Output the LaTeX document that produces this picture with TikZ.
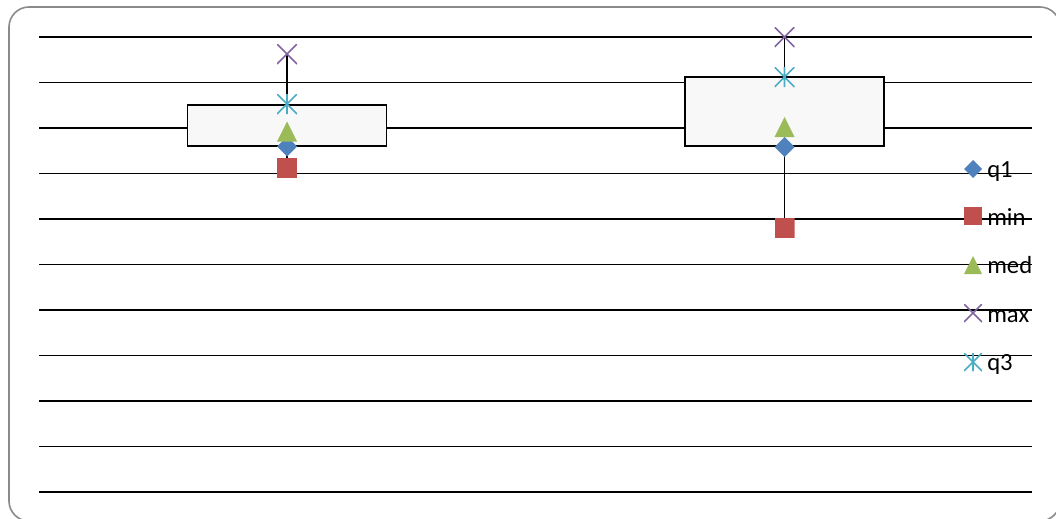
\documentclass[tikz,border=0pt]{standalone}
\usepackage{fontspec}
\setmainfont{Carlito}
\definecolor{q1c}{HTML}{4F81BD}
\definecolor{minc}{HTML}{C0504D}
\definecolor{medc}{HTML}{9BBB59}
\definecolor{maxc}{HTML}{8064A2}
\definecolor{q3c}{HTML}{4BACC6}
\definecolor{framec}{HTML}{8A8A8A}
\definecolor{boxfill}{HTML}{F8F8F8}
\pgfdeclarelayer{back}
\pgfsetlayers{back,main}
\begin{document}
\begin{tikzpicture}[x=0.75pt,y=-0.75pt,
  gridline/.style={line width=1.4pt,black},
  boxst/.style={draw=black,line width=1.4pt,fill=boxfill,inner sep=0pt,minimum width=149.25pt},
  whisk/.style={line width=1.4pt,black},
  mk/.style={inner sep=0pt,minimum width=15pt,minimum height=15pt,draw=none},
  lmk/.style={inner sep=0pt,minimum width=13.5pt,minimum height=13.5pt,draw=none},
  q1m/.style={path picture={\fill[q1c] (path picture bounding box.north)--(path picture bounding box.east)--(path picture bounding box.south)--(path picture bounding box.west)--cycle;}},
  minm/.style={path picture={\fill[minc] (path picture bounding box.south west) rectangle (path picture bounding box.north east);}},
  medm/.style={path picture={\fill[medc] (path picture bounding box.south west)--(path picture bounding box.south east)--(path picture bounding box.north)--cycle;}},
  maxm/.style={path picture={\draw[maxc,line width=1.2pt] (path picture bounding box.south west)--(path picture bounding box.north east) (path picture bounding box.north west)--(path picture bounding box.south east);}},
  q3m/.style={path picture={\draw[q3c,line width=1.2pt] (path picture bounding box.south west)--(path picture bounding box.north east) (path picture bounding box.north west)--(path picture bounding box.south east) (path picture bounding box.north)--(path picture bounding box.south);}},
  legtext/.style={anchor=base west,inner sep=0pt,font=\fontsize{18.5}{22}\selectfont}
]
\useasboundingbox (0,0) rectangle (1056,518);
\clip (0,0) rectangle (1056,518);
% grid lines
\begin{pgfonlayer}{back}
\foreach \i in {0,...,10}{
  \draw[gridline] (39,{37+45.5*\i}) -- (1032,{37+45.5*\i});
}
\end{pgfonlayer}
% boxes
\node[boxst,minimum height=30.75pt] (box1) at (287,125.5) {};
\node[boxst,minimum height=51.75pt] (box2) at (784.5,111.5) {};
% markers series 1
\node[mk,q1m] (q1a) at (287,146.5) {};
\node[mk,minm] (mina) at (287,168) {};
\node[mk,medm] (meda) at (287,131.5) {};
\node[mk,maxm] (maxa) at (287,54) {};
\node[mk,q3m] (q3a) at (287,104) {};
% markers series 2
\node[mk,q1m] (q1b) at (784.5,147) {};
\node[mk,minm] (minb) at (784.5,228) {};
\node[mk,medm] (medb) at (784.5,127) {};
\node[mk,maxm] (maxb) at (784.5,37) {};
\node[mk,q3m] (q3b) at (784.5,77) {};
% whiskers (behind markers)
\begin{pgfonlayer}{back}
\draw[whisk] (maxa.center) -- (box1.north);
\draw[whisk] (box1.south) -- (mina.center);
\draw[whisk] (maxb.center) -- (box2.north);
\draw[whisk] (box2.south) -- (minb.center);
\end{pgfonlayer}
% legend
\node[lmk,q1m] (lq1) at (973,169) {};
\node[legtext] (tq1) at (987,177) {q1};
\node[lmk,minm] (lmin) at (973,216) {};
\node[legtext] (tmin) at (987,225) {min};
\node[lmk,medm] (lmed) at (973,265) {};
\node[legtext] (tmed) at (987,273) {med};
\node[lmk,maxm] (lmax) at (973,313) {};
\node[legtext] (tmax) at (987,322) {max};
\node[lmk,q3m] (lq3) at (973,362) {};
\node[legtext] (tq3) at (987,370) {q3};
% frame
\draw[framec,line width=1.2pt,rounded corners=15pt] (9,7) rectangle (1060,521);
\end{tikzpicture}
\end{document}
